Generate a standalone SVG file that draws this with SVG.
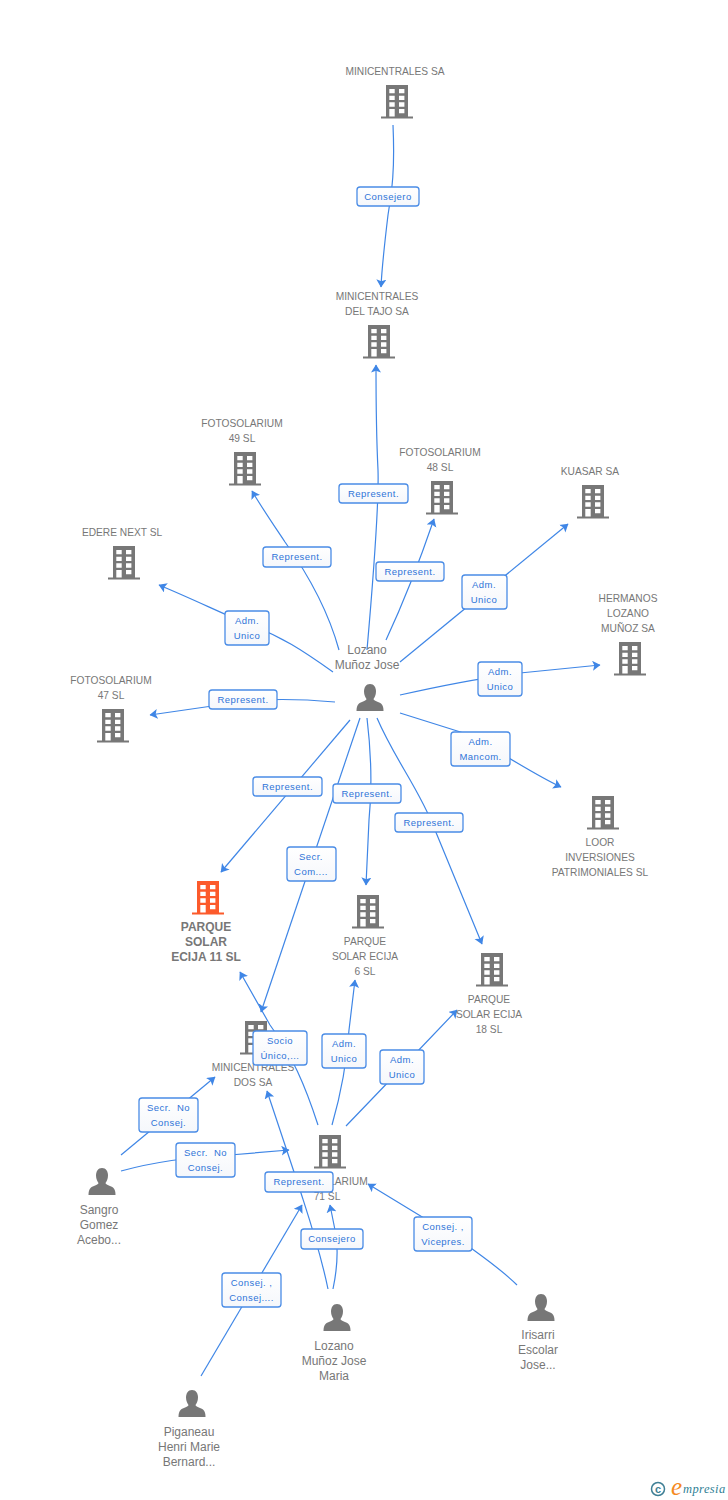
<svg xmlns="http://www.w3.org/2000/svg" width="728" height="1500" viewBox="0 0 728 1500">
<style>
.n{font-family:"Liberation Sans",Arial,sans-serif;font-size:10.2px;fill:#777;text-anchor:middle}
.h{font-size:12px}
.b{font-weight:bold;font-size:12px}
.c{fill:none;stroke:#3f86e6;stroke-width:1.2}
.l rect{fill:url(#g);stroke:#4a8ce6;stroke-width:1.3}
.l text{font-family:"Liberation Sans",Arial,sans-serif;font-size:9.5px;fill:#2f74d8;text-anchor:middle;letter-spacing:.45px;white-space:pre}
</style>
<defs>
<linearGradient id="g" x1="0" y1="0" x2="0" y2="1"><stop offset="0" stop-color="#fff"/><stop offset="1" stop-color="#f5f7fb"/></linearGradient>
<marker id="a" markerUnits="userSpaceOnUse" markerWidth="12" markerHeight="12" refX="7.500" refY="5" orient="auto"><path d="M0 0L8 5L0 10L1.800 5Z" fill="#3f86e6"/></marker>
<g id="bd"><path d="M-11 0H11V31.500H16V33.500H-16V31.500H-11Z"/><path fill="#fff" d="M-7.700 4h5.400v4.300h-5.400zM2 4h5.400v4.300h-5.400zM-7.700 10.700h5.400v4.300h-5.400zM2 10.700h5.400v4.300h-5.400zM-7.700 17.300h5.400v4.400h-5.400zM2 17.300h5.400v4.400h-5.400zM2 24h5.400v4.300h-5.400zM-7.700 24h5.400v7.500h-5.400z"/></g>
<g id="pr"><path d="M0 0C4 0 6 3.500 6 7.500C6 11 4.500 13.500 3.500 15C4 17 8 17.500 11 19.500C13 21 13.500 24 13.500 27H-13.500C-13.500 24 -13 21 -11 19.500C-8 17.500 -4 17 -3.500 15C-4.500 13.500 -6 11 -6 7.500C-6 3.500 -4 0 0 0Z" fill="#777"/></g>
</defs>
<g id="connectors">
<path class="c" marker-end="url(#a)" d="M393 125C395 170 392 190 388 215C385 240 382 265 381 287"/>
<path class="c" marker-end="url(#a)" d="M367 650C374 570 379 500 378 470C376 430 376 400 376 365"/>
<path class="c" marker-end="url(#a)" d="M339 650C328 610 305 570 285 542C275 527 262 508 252 491"/>
<path class="c" marker-end="url(#a)" d="M386 640C400 610 420 560 434 519"/>
<path class="c" marker-end="url(#a)" d="M400 662L568 524"/>
<path class="c" marker-end="url(#a)" d="M333 672C305 652 280 635 245 623C215 610 190 598 159 585"/>
<path class="c" marker-end="url(#a)" d="M400 695C440 686 480 678 520 673L600 665"/>
<path class="c" marker-end="url(#a)" d="M335 702C300 699 270 698 240 702L150 715"/>
<path class="c" marker-end="url(#a)" d="M400 713L470 735C505 755 535 775 561 787"/>
<path class="c" marker-end="url(#a)" d="M350 720L221 872"/>
<path class="c" marker-end="url(#a)" d="M367 718C372 760 372 790 369 820L366 885"/>
<path class="c" marker-end="url(#a)" d="M377 718C395 760 420 790 435 830L482 944"/>
<path class="c" marker-end="url(#a)" d="M360 718L261 1012"/>
<path class="c" marker-end="url(#a)" d="M318 1125C305 1085 292 1055 270 1025L240 972"/>
<path class="c" marker-end="url(#a)" d="M332 1125C342 1090 347 1060 349 1030L355 980"/>
<path class="c" marker-end="url(#a)" d="M346 1126L395 1075L457 1010"/>
<path class="c" marker-end="url(#a)" d="M121 1155L215 1077"/>
<path class="c" marker-end="url(#a)" d="M121 1171C150 1163 190 1157 230 1155L289 1150"/>
<path class="c" marker-end="url(#a)" d="M328 1289C320 1250 308 1215 300 1190L267 1091"/>
<path class="c" marker-end="url(#a)" d="M333 1289C337 1270 338 1250 336 1235L330 1205"/>
<path class="c" marker-end="url(#a)" d="M517 1285C500 1268 480 1255 460 1240L368 1184"/>
<path class="c" marker-end="url(#a)" d="M201 1376L302 1205"/>
</g>
<g id="n1"><use href="#bd" x="397" y="85" fill="#777"/><text class="n" x="395" y="75">MINICENTRALES SA</text></g>
<g id="n2"><use href="#bd" x="379" y="325" fill="#777"/><text class="n" x="377" y="300">MINICENTRALES</text><text class="n" x="377" y="315">DEL TAJO SA</text></g>
<g id="n3"><use href="#bd" x="245" y="452" fill="#777"/><text class="n" x="242" y="427">FOTOSOLARIUM</text><text class="n" x="242" y="442">49 SL</text></g>
<g id="n4"><use href="#bd" x="442" y="481" fill="#777"/><text class="n" x="440" y="456">FOTOSOLARIUM</text><text class="n" x="440" y="471">48 SL</text></g>
<g id="n5"><use href="#bd" x="593" y="485" fill="#777"/><text class="n" x="590" y="475">KUASAR SA</text></g>
<g id="n6"><use href="#bd" x="124" y="546" fill="#777"/><text class="n" x="122" y="536">EDERE NEXT SL</text></g>
<g id="n7"><use href="#bd" x="630" y="642" fill="#777"/><text class="n" x="628" y="602">HERMANOS</text><text class="n" x="628" y="617">LOZANO</text><text class="n" x="628" y="632">MUÑOZ SA</text></g>
<g id="n8"><use href="#bd" x="113" y="709" fill="#777"/><text class="n" x="111" y="684">FOTOSOLARIUM</text><text class="n" x="111" y="699">47 SL</text></g>
<g id="n9"><use href="#bd" x="603" y="796" fill="#777"/><text class="n" x="600" y="846">LOOR</text><text class="n" x="600" y="861">INVERSIONES</text><text class="n" x="600" y="876">PATRIMONIALES SL</text></g>
<g id="n10"><use href="#bd" x="208" y="881" fill="#fc5a2b"/><text class="n b" x="206" y="931">PARQUE</text><text class="n b" x="206" y="946">SOLAR</text><text class="n b" x="206" y="961">ECIJA 11 SL</text></g>
<g id="n11"><use href="#bd" x="368" y="895" fill="#777"/><text class="n" x="365" y="945">PARQUE</text><text class="n" x="365" y="960">SOLAR ECIJA</text><text class="n" x="365" y="975">6 SL</text></g>
<g id="n12"><use href="#bd" x="492" y="953" fill="#777"/><text class="n" x="489" y="1003">PARQUE</text><text class="n" x="489" y="1018">SOLAR ECIJA</text><text class="n" x="489" y="1033">18 SL</text></g>
<g id="n13"><use href="#bd" x="256" y="1021" fill="#777"/><text class="n" x="253" y="1071">MINICENTRALES</text><text class="n" x="253" y="1086">DOS SA</text></g>
<g id="n14"><use href="#bd" x="330" y="1135" fill="#777"/><text class="n" x="327" y="1185">FOTOSOLARIUM</text><text class="n" x="327" y="1200">71 SL</text></g>
<g id="p1"><use href="#pr" x="370" y="684"/><text class="n h" x="367" y="654">Lozano</text><text class="n h" x="367" y="669">Muñoz Jose</text></g>
<g id="p2"><use href="#pr" x="102" y="1168"/><text class="n h" x="99" y="1214">Sangro</text><text class="n h" x="99" y="1229">Gomez</text><text class="n h" x="99" y="1244">Acebo...</text></g>
<g id="p3"><use href="#pr" x="337" y="1304"/><text class="n h" x="334" y="1350">Lozano</text><text class="n h" x="334" y="1365">Muñoz Jose</text><text class="n h" x="334" y="1380">Maria</text></g>
<g id="p4"><use href="#pr" x="541" y="1294"/><text class="n h" x="538" y="1339">Irisarri</text><text class="n h" x="538" y="1354">Escolar</text><text class="n h" x="538" y="1369">Jose...</text></g>
<g id="p5"><use href="#pr" x="192" y="1390"/><text class="n h" x="189" y="1436">Piganeau</text><text class="n h" x="189" y="1451">Henri Marie</text><text class="n h" x="189" y="1466">Bernard...</text></g>
<g id="labels">
<g class="l"><rect x="357" y="187" width="62" height="19" rx="3"/><text x="388" y="200">Consejero</text></g>
<g class="l"><rect x="339" y="484" width="69" height="19" rx="3"/><text x="373.500" y="497">Represent.</text></g>
<g class="l"><rect x="263" y="547" width="68" height="20" rx="3"/><text x="297" y="560">Represent.</text></g>
<g class="l"><rect x="376" y="562" width="68" height="19" rx="3"/><text x="410" y="575">Represent.</text></g>
<g class="l"><rect x="225" y="611" width="44" height="34" rx="3"/><text x="247" y="624">Adm.</text><text x="247" y="639">Unico</text></g>
<g class="l"><rect x="462" y="575" width="45" height="34" rx="3"/><text x="484" y="588">Adm.</text><text x="484" y="603">Unico</text></g>
<g class="l"><rect x="478" y="662" width="44" height="34" rx="3"/><text x="500" y="675">Adm.</text><text x="500" y="690">Unico</text></g>
<g class="l"><rect x="209" y="690" width="68" height="19" rx="3"/><text x="243" y="703">Represent.</text></g>
<g class="l"><rect x="451" y="732" width="59" height="34" rx="3"/><text x="480.500" y="745">Adm.</text><text x="480.500" y="760">Mancom.</text></g>
<g class="l"><rect x="253" y="777" width="69" height="19" rx="3"/><text x="287.500" y="790">Represent.</text></g>
<g class="l"><rect x="333" y="784" width="68" height="19" rx="3"/><text x="367" y="797">Represent.</text></g>
<g class="l"><rect x="395" y="813" width="68" height="19" rx="3"/><text x="429" y="826">Represent.</text></g>
<g class="l"><rect x="287" y="847" width="49" height="34" rx="3"/><text x="311" y="860">Secr.</text><text x="311" y="875">Com....</text></g>
<g class="l"><rect x="253" y="1031" width="54" height="34" rx="3"/><text x="280" y="1044">Socio</text><text x="280" y="1059">Único,...</text></g>
<g class="l"><rect x="322" y="1034" width="44" height="34" rx="3"/><text x="344" y="1047">Adm.</text><text x="344" y="1062">Unico</text></g>
<g class="l"><rect x="380" y="1050" width="44" height="34" rx="3"/><text x="402" y="1063">Adm.</text><text x="402" y="1078">Unico</text></g>
<g class="l"><rect x="139" y="1098" width="59" height="34" rx="3"/><text x="168.500" y="1111">Secr.  No</text><text x="168.500" y="1126">Consej.</text></g>
<g class="l"><rect x="176" y="1143" width="59" height="34" rx="3"/><text x="205.500" y="1156">Secr.  No</text><text x="205.500" y="1171">Consej.</text></g>
<g class="l"><rect x="265" y="1172" width="68" height="20" rx="3"/><text x="299" y="1185">Represent.</text></g>
<g class="l"><rect x="301" y="1229" width="62" height="20" rx="3"/><text x="332" y="1242">Consejero</text></g>
<g class="l"><rect x="414" y="1217" width="58" height="34" rx="3"/><text x="443" y="1230">Consej. ,</text><text x="443" y="1245">Vicepres.</text></g>
<g class="l"><rect x="222" y="1273" width="59" height="34" rx="3"/><text x="251.500" y="1286">Consej. ,</text><text x="251.500" y="1301">Consej....</text></g>
</g>
<g id="logo">
<circle cx="658" cy="1489" r="6.500" fill="none" stroke="#3f7f95" stroke-width="1.500"/>
<text x="658" y="1492.500" font-family="Liberation Sans,sans-serif" font-size="11" font-weight="bold" fill="#3f7f95" text-anchor="middle">c</text>
<text x="671" y="1495" font-family="Liberation Serif,serif" font-size="25" font-style="italic" fill="#f58a1f">e</text>
<text x="683" y="1493" font-family="Liberation Serif,serif" font-size="12.500" font-style="italic" letter-spacing=".4" fill="#2f7f95">mpresia</text>
</g>
</svg>
